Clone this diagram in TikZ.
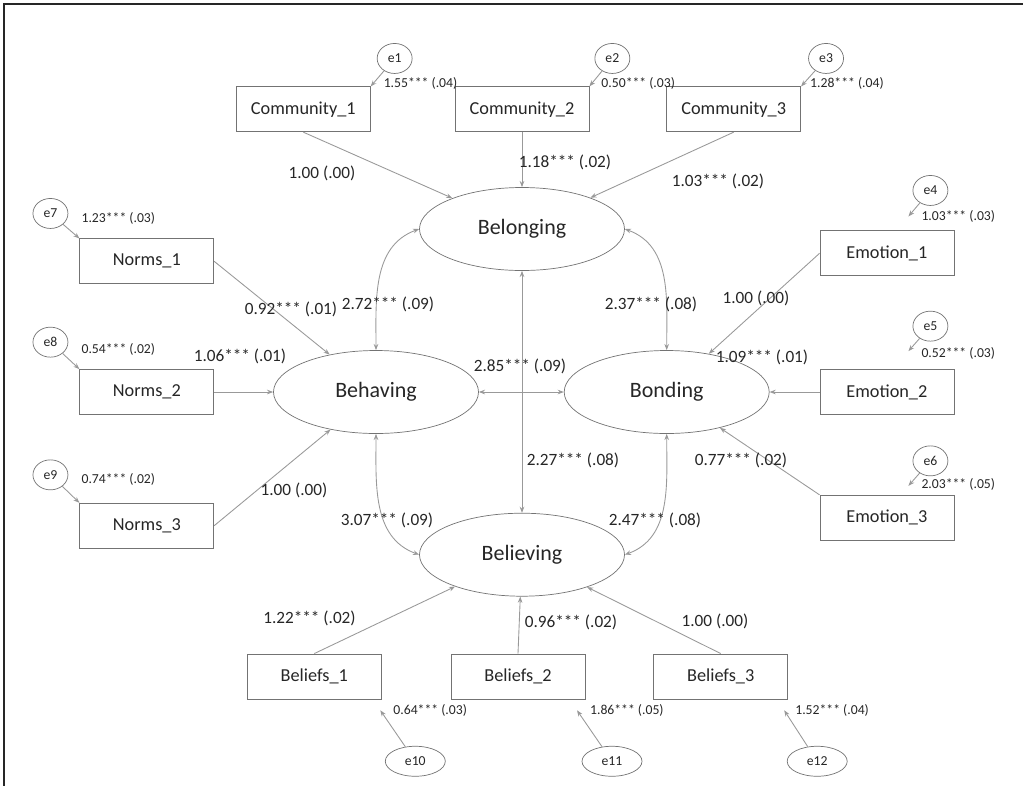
\documentclass[tikz,border=0pt]{standalone}
\usepackage{fontspec}
\setmainfont{Carlito}
\usetikzlibrary{arrows.meta,positioning,shapes,calc}

\begin{document}
\begin{tikzpicture}[>={Stealth[length=3.5pt,width=2.6pt]}]
  \tikzstyle{block} = [draw=black!55, rectangle, minimum width=2.68cm, minimum height=0.9cm, text=black!85, font=\fontsize{10.4}{12}\selectfont]
  \tikzstyle{latent} = [draw=black!55, ellipse, minimum width=4.1cm, minimum height=1.66cm, text=black!85, font=\fontsize{12.5}{14}\selectfont]
  \tikzstyle{err} = [draw=black!55, ellipse, minimum width=0.7cm, minimum height=0.6cm, inner sep=1pt, text=black!85, font=\fontsize{7.8}{9}\selectfont]
  \tikzstyle{est} = [inner sep=1pt, text=black!85, font=\fontsize{9.8}{11}\selectfont]
  \tikzstyle{var} = [anchor=west, inner sep=1pt, text=black!85, font=\fontsize{7.8}{9}\selectfont]
  \tikzstyle{link} = [->, draw=black!40, line width=0.5pt]
  \tikzstyle{cov} = [<->, draw=black!40, line width=0.5pt]

  \useasboundingbox (0,0) rectangle (20.46,-15.72);
  \draw [line width=1.3pt, black!85] (20.46,-0.08) -- (0.08,-0.08) -- (0.08,-15.72);

  % latent factors
  \node [latent] (belonging) at (10.44,-4.58) {Belonging};
  \node [latent, below = 4.84cm of belonging] (believing) {Believing};
  \node [latent] (behaving) at (7.52,-7.84) {Behaving};
  \node [latent, right = 1.7cm of behaving] (bonding) {Bonding};

  % indicators
  \node [block, above = 1.1cm of belonging] (com2) {Community\_2};
  \node [block, left = 1.68cm of com2] (com1) {Community\_1};
  \node [block, right = 1.54cm of com2] (com3) {Community\_3};
  \node [block, left = 1.18cm of behaving] (nor2) {Norms\_2};
  \node [block, above = 1.7cm of nor2] (nor1) {Norms\_1};
  \node [block, below = 1.76cm of nor2] (nor3) {Norms\_3};
  \node [block, right = 1cm of bonding] (emo2) {Emotion\_2};
  \node [block, above = 1.86cm of emo2] (emo1) {Emotion\_1};
  \node [block, below = 1.6cm of emo2] (emo3) {Emotion\_3};
  \node [block, below = 1.14cm of believing, xshift=-0.08cm] (bel2) {Beliefs\_2};
  \node [block, left = 1.38cm of bel2] (bel1) {Beliefs\_1};
  \node [block, right = 1.36cm of bel2] (bel3) {Beliefs\_3};

  % error terms
  \node [err] (e1) at ($(com1.north east)+(0.48,0.56)$) {e1};
  \node [err] (e2) at ($(com2.north east)+(0.46,0.56)$) {e2};
  \node [err] (e3) at ($(com3.north east)+(0.5,0.56)$) {e3};
  \node [err] (e4) at ($(emo1.north)+(0.87,0.8)$) {e4};
  \node [err] (e5) at ($(emo2.north)+(0.87,0.86)$) {e5};
  \node [err] (e6) at ($(emo3.north)+(0.87,0.68)$) {e6};
  \node [err] (e7) at ($(nor1.north west)+(-0.58,0.5)$) {e7};
  \node [err] (e8) at ($(nor2.north west)+(-0.58,0.54)$) {e8};
  \node [err] (e9) at ($(nor3.north west)+(-0.58,0.56)$) {e9};
  \node [err, minimum width=1.2cm] (e10) at ($(bel1.south)+(2.02,-1.24)$) {e10};
  \node [err, minimum width=1.2cm] (e11) at ($(bel2.south)+(1.88,-1.24)$) {e11};
  \node [err, minimum width=1.2cm] (e12) at ($(bel3.south)+(1.93,-1.24)$) {e12};

  \coordinate (t4) at ($(emo1.north)+(0.43,0.28)$);
  \coordinate (t5) at ($(emo2.north)+(0.43,0.36)$);
  \coordinate (t6) at ($(emo3.north)+(0.43,0.18)$);
  \coordinate (t10) at ($(bel1.south)+(1.32,-0.22)$);
  \coordinate (t11) at ($(bel2.south)+(1.18,-0.22)$);
  \coordinate (t12) at ($(bel3.south)+(1.27,-0.22)$);

  % error variances
  \node [var] (v1) at ($(com1.north east)+(0.22,0.06)$) {1.55*** (.04)};
  \node [var] (v2) at ($(com2.north east)+(0.2,0.06)$) {0.50*** (.03)};
  \node [var] (v3) at ($(com3.north east)+(0.14,0.06)$) {1.28*** (.04)};
  \node [var] (v4) at ($(emo1.north)+(0.65,0.28)$) {1.03*** (.03)};
  \node [var] (v5) at ($(emo2.north)+(0.65,0.32)$) {0.52*** (.03)};
  \node [var] (v6) at ($(emo3.north)+(0.65,0.2)$) {2.03*** (.05)};
  \node [var] (v7) at ($(nor1.north west)+(0,0.4)$) {1.23*** (.03)};
  \node [var] (v8) at ($(nor2.north west)+(0,0.4)$) {0.54*** (.02)};
  \node [var] (v9) at ($(nor3.north west)+(0,0.46)$) {0.74*** (.02)};
  \node [var] (v10) at ($(bel1.south)+(1.54,-0.22)$) {0.64*** (.03)};
  \node [var] (v11) at ($(bel2.south)+(1.40,-0.22)$) {1.86*** (.05)};
  \node [var] (v12) at ($(bel3.south)+(1.45,-0.22)$) {1.52*** (.04)};

  \draw [link] (e1) -- (com1.north east);
  \draw [link] (e2) -- (com2.north east);
  \draw [link] (e3) -- (com3.north east);
  \draw [link] (e4) -- (t4);
  \draw [link] (e5) -- (t5);
  \draw [link] (e6) -- (t6);
  \draw [link] (e7) -- (nor1.north west);
  \draw [link] (e8) -- (nor2.north west);
  \draw [link] (e9) -- (nor3.north west);
  \draw [link] (e10) -- (t10);
  \draw [link] (e11) -- (t11);
  \draw [link] (e12) -- (t12);

  % loadings
  \draw [link] (com1.south) -- (belonging);
  \draw [link] (com2.south) -- (belonging);
  \draw [link] (com3.south) -- (belonging);
  \draw [link] (nor1.east) -- (behaving);
  \draw [link] (nor2.east) -- (behaving);
  \draw [link] (nor3.east) -- (behaving);
  \draw [link] (emo1.west) -- (bonding);
  \draw [link] (emo2.west) -- (bonding);
  \draw [link] (emo3.north west) -- (bonding);
  \draw [link] (bel1.north) -- (believing);
  \draw [link] (bel2.north) -- (believing);
  \draw [link] (bel3.north) -- (believing);

  \node [est] (l1) at (6.44,-3.46) {1.00 (.00)};
  \node [est] (l2) at (11.30,-3.24) {1.18*** (.02)};
  \node [est] (l3) at (14.36,-3.62) {1.03*** (.02)};
  \node [est] (l7) at (5.82,-6.18) {0.92*** (.01)};
  \node [est] (l8) at (4.80,-7.12) {1.06*** (.01)};
  \node [est] (l9) at (5.88,-9.80) {1.00 (.00)};
  \node [est] (l4) at (15.12,-5.96) {1.00 (.00)};
  \node [est] (l5) at (15.24,-7.14) {1.09*** (.01)};
  \node [est] (l6) at (14.82,-9.20) {0.77*** (.02)};
  \node [est] (l10) at (6.19,-12.36) {1.22*** (.02)};
  \node [est] (l11) at (11.42,-12.44) {0.96*** (.02)};
  \node [est] (l12) at (14.30,-12.42) {1.00 (.00)};

  % covariances
  \draw [cov] (belonging.west) to[out=200, in=90] (behaving.north);
  \draw [cov] (belonging.east) to[out=-20, in=90] (bonding.north);
  \draw [cov] (belonging.south) -- (believing.north);
  \draw [cov] (behaving.east) -- (bonding.west);
  \draw [cov] (behaving.south) to[out=-90, in=160] (believing.west);
  \draw [cov] (bonding.south) to[out=-90, in=20] (believing.east);

  \node [est] (c1) at (7.76,-6.08) {2.72*** (.09)};
  \node [est] (c2) at (13.02,-6.08) {2.37*** (.08)};
  \node [est] (c3) at (10.40,-7.32) {2.85*** (.09)};
  \node [est] (c4) at (11.46,-9.20) {2.27*** (.08)};
  \node [est] (c5) at (7.74,-10.40) {3.07*** (.09)};
  \node [est] (c6) at (13.10,-10.40) {2.47*** (.08)};
\end{tikzpicture}
\end{document}
